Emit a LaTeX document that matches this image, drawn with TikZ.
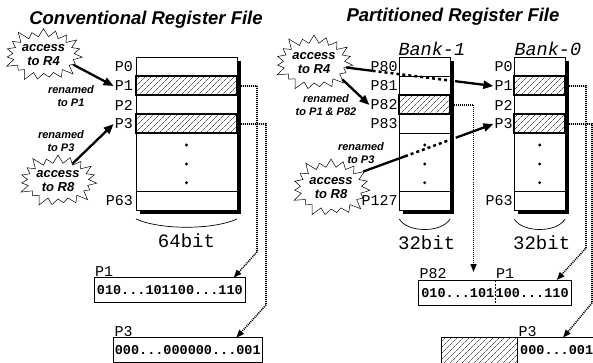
\documentclass[tikz,border=0pt]{standalone}
\usepackage{fontspec}
\setmainfont{Liberation Sans}
\setmonofont{Liberation Mono}
\usetikzlibrary{arrows.meta,positioning,calc,shapes.symbols,shadows,patterns.meta}
\tikzset{
  regframe/.style={
    draw,
    fill=white,
    line width=0.5pt,
    inner sep=0pt,
    outer sep=0pt,
    minimum height=152.5pt,
    drop shadow={shadow xshift=3.5pt, shadow yshift=-3.5pt, fill=black, opacity=1}
  },
  regrow/.style={
    draw,
    line width=0.5pt,
    inner sep=0pt,
    outer sep=0pt,
    minimum height=19pt
  },
  hotrow/.style={
    regrow,
    line width=2pt,
    pattern={Lines[angle=45,distance=4pt,line width=0.4pt]}
  },
  bitdot/.style={circle, fill=black, inner sep=0pt, minimum size=3.2pt},
  plabel/.style={font=\fontsize{15}{15}\selectfont\ttfamily, inner sep=1pt},
  banklabel/.style={font=\fontsize{18.5}{18.5}\selectfont\ttfamily\itshape, inner sep=1pt},
  widthlabel/.style={font=\fontsize{19}{19}\selectfont\ttfamily, inner sep=0pt},
  valbox/.style={
    draw,
    line width=1pt,
    inner sep=0pt,
    outer sep=0pt,
    minimum height=25pt,
    font=\fontsize{13.5}{13.5}\selectfont\ttfamily\bfseries
  },
  valtext/.style={font=\fontsize{13.5}{13.5}\selectfont\ttfamily\bfseries, inner sep=0.5pt},
  burst/.style={
    starburst,
    draw,
    fill=white,
    line width=0.5pt,
    starburst points=19,
    starburst point height=11pt,
    inner sep=0pt,
    align=center,
    font=\fontsize{13}{14.5}\selectfont\bfseries\itshape
  },
  renamenote/.style={align=center, inner sep=0pt, font=\fontsize{11}{13}\selectfont\bfseries\itshape},
  headline/.style={font=\fontsize{18.5}{18.5}\selectfont\bfseries\itshape},
  bigarrow/.style={-{Triangle[length=10pt,width=8pt]}, line width=2.3pt},
  bigline/.style={line width=2.3pt},
  bigdots/.style={line width=2.5pt, dash pattern=on 3pt off 3pt},
  linkarrow/.style={-{Triangle[length=8pt,width=6pt]}, line width=1.6pt, dash pattern=on 1pt off 1pt},
  arcline/.style={line width=0.7pt}
}
\begin{document}
\begin{tikzpicture}[x=1pt,y=-1pt]
\useasboundingbox (0,0) rectangle (593,363);

\node[headline] (ltitle) at (146,20) {Conventional Register File};
\node[headline] (rtitle) at (453,17) {Partitioned Register File};

% conventional file
\node[regframe, minimum width=101pt] (lfile) at (186.5,133.75) {};
\node[regrow, minimum width=101pt] (l0) at (186.5,67) {};
\node[regrow, minimum width=101pt] (l2) at (186.5,105) {};
\node[regrow, minimum width=101pt] (l63) at (186.5,200.5) {};
\node[hotrow, minimum width=101pt] (l1) at (186.5,86) {};
\node[hotrow, minimum width=101pt] (l3) at (186.5,124) {};
\node[bitdot] (ld1) at (186.5,145) {};
\node[bitdot] (ld2) at (186.5,164) {};
\node[bitdot] (ld3) at (186.5,182.7) {};
\node[plabel, left=2pt of l0] (lp0) {P0};
\node[plabel, left=2pt of l1] (lp1) {P1};
\node[plabel, left=2pt of l2] (lp2) {P2};
\node[plabel, left=2pt of l3] (lp3) {P3};
\node[plabel, left=2pt of l63] (lp63) {P63};
\draw[arcline] ([yshift=-9pt]lfile.south west) .. controls +(24,11) and +(-24,11) .. ([yshift=-9pt]lfile.south east);
\node[widthlabel] (lwidth) at ([yshift=-31pt]lfile.south) {64bit};

% bank 1
\node[regframe, minimum width=50.7pt] (bank1) at (424.65,133.75) {};
\node[regrow, minimum width=50.7pt] (hi80) at (424.65,67) {};
\node[regrow, minimum width=50.7pt] (hi81) at (424.65,86) {};
\node[regrow, minimum width=50.7pt] (hi83) at (424.65,124) {};
\node[regrow, minimum width=50.7pt] (hi127) at (424.65,200.5) {};
\node[hotrow, minimum width=50.7pt] (hi82) at (424.65,105) {};
\node[bitdot] (hd1) at (424.65,145) {};
\node[bitdot] (hd2) at (424.65,164) {};
\node[bitdot] (hd3) at (424.65,182.7) {};
\node[plabel, left=0.5pt of hi80] (hip80) {P80};
\node[plabel, left=0.5pt of hi81] (hip81) {P81};
\node[plabel, left=0.5pt of hi82] (hip82) {P82};
\node[plabel, left=0.5pt of hi83] (hip83) {P83};
\node[plabel, left=0.5pt of hi127] (hip127) {P127};
\node[banklabel, anchor=south west] (hiname) at ([xshift=-2pt,yshift=1pt]bank1.north west) {Bank-1};
\draw[arcline] ([yshift=-9pt]bank1.south west) .. controls +(8,14) and +(-8,14) .. ([yshift=-9pt]bank1.south east);
\node[widthlabel] (hiwidth) at ([xshift=2pt,yshift=-33pt]bank1.south) {32bit};

% bank 0
\node[regframe, minimum width=50.7pt] (bank0) at (539.65,133.75) {};
\node[regrow, minimum width=50.7pt] (lo0) at (539.65,67) {};
\node[regrow, minimum width=50.7pt] (lo2) at (539.65,105) {};
\node[regrow, minimum width=50.7pt] (lo63) at (539.65,200.5) {};
\node[hotrow, minimum width=50.7pt] (lo1) at (539.65,86) {};
\node[hotrow, minimum width=50.7pt] (lo3) at (539.65,124) {};
\node[bitdot] (od1) at (539.65,145) {};
\node[bitdot] (od2) at (539.65,164) {};
\node[bitdot] (od3) at (539.65,182.7) {};
\node[plabel, left=0.5pt of lo0] (lop0) {P0};
\node[plabel, left=0.5pt of lo1] (lop1) {P1};
\node[plabel, left=0.5pt of lo2] (lop2) {P2};
\node[plabel, left=0.5pt of lo3] (lop3) {P3};
\node[plabel, left=0.5pt of lo63] (lop63) {P63};
\node[banklabel, anchor=south west] (loname) at ([xshift=-1pt,yshift=1pt]bank0.north west) {Bank-0};
\draw[arcline] ([yshift=-9pt]bank0.south west) .. controls +(8,14) and +(-8,14) .. ([yshift=-9pt]bank0.south east);
\node[widthlabel] (lowidth) at ([xshift=2pt,yshift=-33pt]bank0.south) {32bit};

% register contents
\node[valbox, minimum width=151.7pt] (lbox1) at (169.85,290.2) {010...101100...110};
\node[valbox, minimum width=149pt] (lbox3) at (187.8,350.2) {000...000000...001};
\node[plabel, anchor=south west] (lbox1name) at (lbox1.north west) {P1};
\node[plabel, anchor=south west] (lbox3name) at (lbox3.north west) {P3};

\node[valbox, minimum width=153.4pt, minimum height=25.7pt] (rbox1) at (495,292.85) {};
\draw[line width=0.5pt, dash pattern=on 2pt off 1.5pt] (rbox1.north) -- (rbox1.south);
\node[valtext, anchor=east] (rbox1hi) at (rbox1.center) {010...101};
\node[valtext, anchor=west] (rbox1lo) at (rbox1.center) {100...110};
\node[plabel, anchor=south west] (rbox1name) at (rbox1.north west) {P82};
\node[plabel, anchor=south west] (rbox1name2) at (rbox1.north) {P1};

\node[valbox, minimum width=76.3pt, minimum height=25.3pt, pattern={Lines[angle=45,distance=4pt,line width=0.4pt]}] (rbox3a) at (479.15,350.35) {};
\node[valbox, minimum width=78.7pt, minimum height=25.3pt] (rbox3b) at (556.65,350.35) {000...001};
\node[plabel, anchor=south west] (rbox3name) at (rbox3b.north west) {P3};

% accesses
\node[burst, minimum width=79pt, minimum height=59pt] (lstar4) at (43.5,55) {access\\to R4};
\node[burst, minimum width=76pt, minimum height=58pt] (lstar8) at (58,181) {access\\to R8};
\node[burst, minimum width=74pt, minimum height=62pt] (rstar4) at (314,63) {access\\to R4};
\node[burst, minimum width=76pt, minimum height=64pt] (rstar8) at (331,188) {access\\to R8};

\node[renamenote] (lnote1) at (71,96) {renamed\\to P1};
\node[renamenote] (lnote3) at (61,141) {renamed\\to P3};
\node[renamenote] (rnote1) at (326,105) {renamed\\to P1 \& P82};
\node[renamenote] (rnote3) at (361,153) {renamed\\to P3};

\draw[bigarrow] (lstar4.-18) -- (lp1.west);
\draw[bigarrow] (lstar8.50) -- (lp3.west);
\draw[bigarrow] (rstar4.-30) -- (hip82.west);

\path (rstar4.-8) -- (lop1.west) coordinate[pos=0.18] (r4in) coordinate[pos=0.74] (r4out);
\draw[bigline] (rstar4.-8) -- (r4in);
\draw[bigdots] (r4in) -- (r4out);
\draw[bigarrow] (r4out) -- (lop1.west);

\path (rstar8.27) -- (lop3.west) coordinate[pos=0.32] (r8in) coordinate[pos=0.71] (r8out);
\draw[bigline] (rstar8.27) -- (r8in);
\draw[bigdots] (r8in) -- (r8out);
\draw[bigarrow] (r8out) -- (lop3.west);

% reads
\coordinate (p82tip) at (473.5,272);
\draw[linkarrow] ([xshift=4pt]l1.east) -- ++(16,0) -- ++(0,166) -- ([xshift=-12pt]lbox1.north east);
\draw[linkarrow] ([xshift=4pt]l3.east) -- ++(25,0) -- ++(0,181) -- ([xshift=-26pt]lbox3.north east);
\draw[linkarrow] ([xshift=4pt]hi82.east) -| (p82tip);
\draw[linkarrow] ([xshift=4pt]lo1.east) -- ++(17,0) -- ++(0,162) -- ([xshift=-15pt]rbox1.north east);
\draw[linkarrow] ([xshift=4pt]lo3.east) -- ++(23,0) -- ++(0,179) -- ([xshift=-33pt]rbox3b.north east);
\end{tikzpicture}
\end{document}
